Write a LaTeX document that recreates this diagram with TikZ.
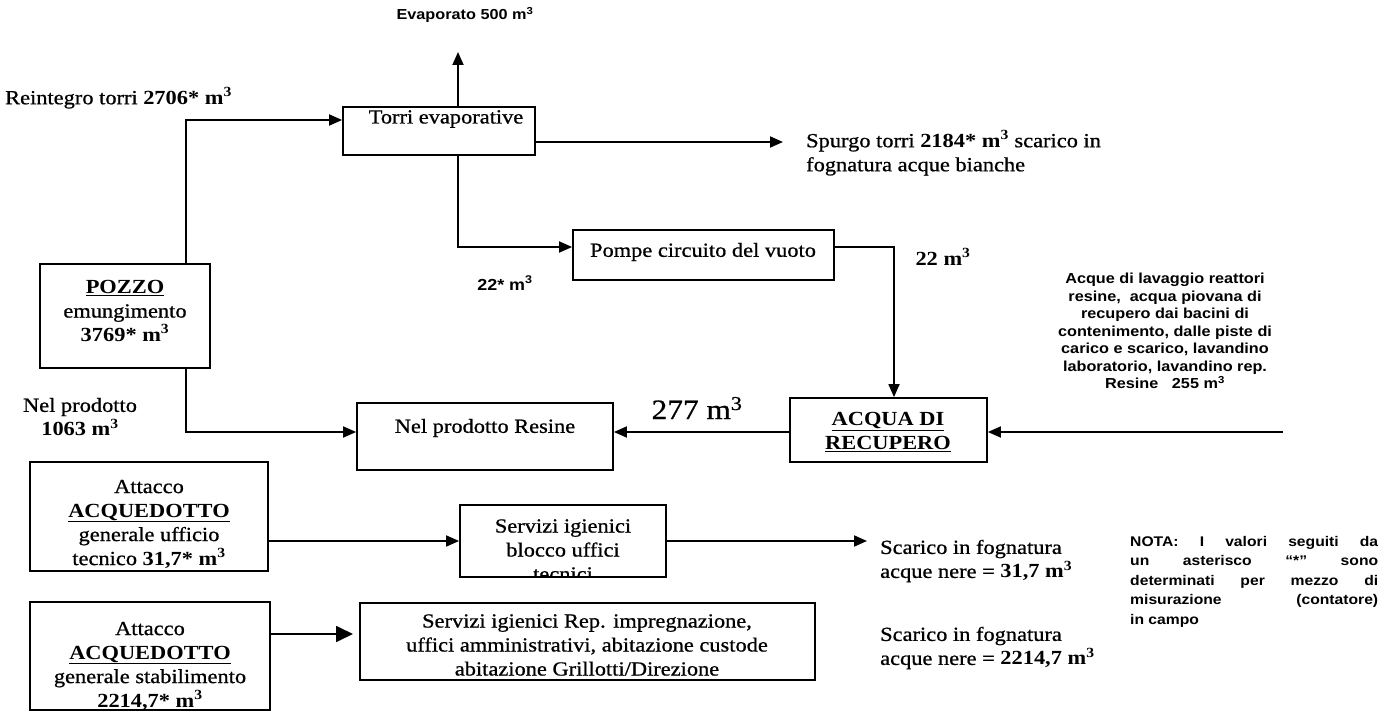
\documentclass[tikz,border=0pt]{standalone}
\usepackage{fontspec}
\setmainfont[FakeStretch=1.12, UprightFeatures={FakeBold=0.8}]{Liberation Serif}
\setsansfont[FakeStretch=1.12]{Liberation Sans}
\usetikzlibrary{arrows.meta}
\begin{document}
\begin{tikzpicture}[x=1pt,y=-1pt,
 box/.style={draw, line width=1.8pt, inner sep=0pt},
 flow/.style={line width=1.8pt, -{Triangle[length=13pt,width=11pt]}},
 bigflow/.style={line width=1.8pt, -{Triangle[length=17pt,width=16pt]}},
 st/.style={font=\fontsize{20}{24}\selectfont, align=center, inner sep=0pt},
 ss/.style={font=\sffamily\bfseries\fontsize{14.5}{17.5}\selectfont, align=center, inner sep=0pt},
 sn/.style={font=\sffamily\bfseries\fontsize{14.5}{17.5}\selectfont, align=center, inner sep=0pt},
]
\useasboundingbox (0,0) rectangle (1390,727);

% boxes
\node[box, minimum width=170pt, minimum height=104pt] (pozzo) at (125,316) {};
\node[box, minimum width=192pt, minimum height=48pt] (torri) at (439,131) {};
\node[box, minimum width=261pt, minimum height=50pt] (pompe) at (703.5,255) {};
\node[box, minimum width=256pt, minimum height=67pt] (nel) at (485,436.5) {};
\node[box, minimum width=197pt, minimum height=64pt] (acqua) at (888.5,430) {};
\node[box, minimum width=238pt, minimum height=109pt] (att1) at (149,516.5) {};
\node[box, minimum width=206pt, minimum height=72pt] (serv1) at (563,541) {};
\node[box, minimum width=240pt, minimum height=108pt] (att2) at (150,656) {};
\node[box, minimum width=455pt, minimum height=77pt] (serv2) at (587.5,641.5) {};

% texts in boxes
\node[st] (pozzot) at (125,311) {\textbf{\underline{POZZO}}\\emungimento\\\textbf{3769* m\textsuperscript{3}}};
\node[st] (torrit) at (446,119) {Torri evaporative};
\node[st] (pompet) at (703,252) {Pompe circuito del vuoto};
\node[st] (nelt) at (485,428) {Nel prodotto Resine};
\node[st] (acquat) at (888,432) {\textbf{\underline{ACQUA DI}}\\\textbf{\underline{RECUPERO}}};
\node[st] (att1t) at (149,524) {Attacco\\\textbf{\underline{ACQUEDOTTO}}\\generale ufficio\\tecnico \textbf{31,7* m\textsuperscript{3}}};
\begin{scope}
\clip (serv1.north west) rectangle (serv1.south east);
\node[st] (serv1t) at (563,550) {Servizi igienici\\blocco uffici\\tecnici};
\end{scope}
\node[st] (att2t) at (150,666) {Attacco\\\textbf{\underline{ACQUEDOTTO}}\\generale stabilimento\\\textbf{2214,7* m\textsuperscript{3}}};
\node[st] (serv2t) at (587,645) {Servizi igienici Rep. impregnazione,\\uffici amministrativi, abitazione custode\\abitazione Grillotti/Direzione};

% free labels
\node[ss] (evap) at (465,15) {Evaporato 500 m\textsuperscript{3}};
\node[st, anchor=west] (reint) at (5,98) {Reintegro torri \textbf{2706* m\textsuperscript{3}}};
\node[st, anchor=west, align=left] (spurgo) at (806,153) {Spurgo torri \textbf{2184* m\textsuperscript{3}} scarico in\\fognatura acque bianche};
\node[ss, font=\sffamily\bfseries\fontsize{16}{18}\selectfont] (l22s) at (505,283) {22* m\textsuperscript{3}};
\node[st] (l22) at (943,257) {\textbf{22 m\textsuperscript{3}}};
\node[sn] (acque) at (1165,331) {Acque di lavaggio reattori\\resine,\ \ acqua piovana di\\recupero dai bacini di\\contenimento, dalle piste di\\carico e scarico, lavandino\\laboratorio, lavandino rep.\\Resine\ \ \ 255 m\textsuperscript{3}};
\node[font=\fontsize{28}{32}\selectfont, inner sep=0pt] (l277) at (697,408) {277 m\textsuperscript{3}};
\node[st] (nelp) at (80,417) {Nel prodotto\\\textbf{1063 m\textsuperscript{3}}};
\node[st, anchor=west, align=left] (sc1) at (880,561) {Scarico in fognatura\\acque nere = \textbf{31,7 m\textsuperscript{3}}};
\node[st, anchor=west, align=left] (sc2) at (880,648) {Scarico in fognatura\\acque nere = \textbf{2214,7 m\textsuperscript{3}}};
\node[sn, font=\sffamily\bfseries\fontsize{14}{19.5}\selectfont, align=left, anchor=north west] (nota) at (1130,536) {\makebox[248pt][s]{NOTA: I valori seguiti da}\\\makebox[248pt][s]{un asterisco ``*'' sono}\\\makebox[248pt][s]{determinati per mezzo di}\\\makebox[248pt][s]{misurazione (contatore)}\\in campo};

% junction coordinates
\coordinate (j1) at (186,120);
\coordinate (evtip) at (458,52);
\coordinate (ev) at (458,0);
\coordinate (y142) at (0,142);
\coordinate (sptip) at (783,142);
\coordinate (j2) at (458,247);
\coordinate (j3) at (894,247);
\coordinate (src) at (1283,432);
\coordinate (j4) at (186,432);
\coordinate (y541) at (0,541);
\coordinate (sc1tip) at (867,541);
\coordinate (y634) at (0,634);
\coordinate (s2tip) at (353,634);

% connectors
\draw[flow] (pozzo.north -| j1) |- (torri.west |- j1);
\draw[flow] (torri.north -| ev) -- (evtip);
\draw[flow] (torri.east |- y142) -- (sptip);
\draw[flow] (torri.south -| j2) |- (pompe.west |- j2);
\draw[flow] (pompe.east |- j3) -| (acqua.north -| j3);
\draw[flow] (src) -- (acqua.east |- src);
\draw[flow] (acqua.west |- src) -- (nel.east |- src);
\draw[flow] (pozzo.south -| j4) |- (nel.west |- j4);
\draw[flow] (att1.east |- y541) -- (serv1.west |- y541);
\draw[flow] (serv1.east |- y541) -- (sc1tip);
\draw[bigflow] (att2.east |- y634) -- (s2tip);
\end{tikzpicture}
\end{document}
